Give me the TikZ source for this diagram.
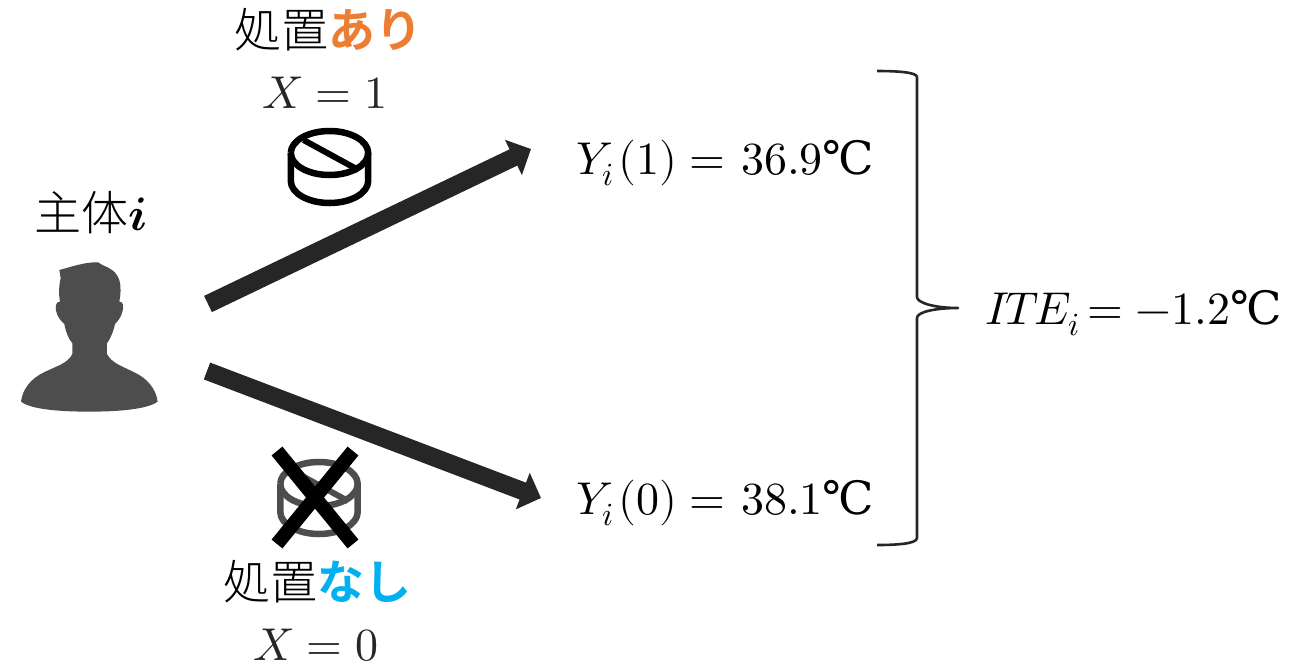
\documentclass[tikz,border=0pt]{standalone}
\usepackage{fontspec}
\usepackage{unicode-math}
\setmathfont{Latin Modern Math}
\usetikzlibrary{arrows.meta}
\newfontfamily\cjk{Noto Sans CJK JP}[UprightFont=* Light,BoldFont=* Bold]
\newfontfamily\celfont{DejaVu Serif}
\definecolor{dk}{HTML}{262626}
\definecolor{pers}{HTML}{4D4D4D}
\definecolor{ora}{HTML}{ED7D31}
\definecolor{blu}{HTML}{00B0F0}
\tikzset{
 lbl/.style={inner sep=0pt,anchor=base west,font=\fontsize{47}{51}\selectfont\cjk,text=black},
 eq/.style={inner sep=0pt,anchor=base,font=\fontsize{46}{50}\selectfont,text=dk},
 res/.style={inner sep=0pt,anchor=base west,font=\fontsize{46}{50}\selectfont,text=black},
 bigarrow/.style={draw=dk,line width=18pt,-{Triangle[length=19.5pt,width=38pt]}},
 brace/.style={draw=dk,line width=2.6pt,line join=round},
 tablet/.pic={
  \draw[line width=6.5pt,line join=round,pic actions] (-38.7,0) arc[start angle=180,end angle=-180,x radius=38.7,y radius=22];
  \draw[line width=6.5pt,line join=round,pic actions] (-38.7,0) -- (-38.7,28) arc[start angle=180,end angle=0,x radius=38.7,y radius=22] -- (38.7,0);
  \draw[line width=6pt,pic actions] (-26,-13) -- (29,17);
 },
 crossbar/.style={draw=black,line width=14pt},
}
\newcommand{\cel}{{\celfont ℃}}
\begin{document}
\begin{tikzpicture}[x=1pt,y=-1pt]
\useasboundingbox (0,0) rectangle (1302,665);
\fill[white] (0,0) rectangle (1302,665);
% person
\fill[pers,shift={(0,180)},x=0.3333pt,y=-0.3333pt]
 (178,270) .. controls (210,262) and (255,245) .. (295,247)
 .. controls (312,262) and (345,262) .. (358,300)
 .. controls (364,320) and (362,345) .. (358,365)
 .. controls (368,365) and (372,375) .. (368,392)
 .. controls (364,412) and (352,425) .. (345,432)
 .. controls (340,455) and (332,475) .. (321,490)
 -- (321,522)
 .. controls (335,550) and (370,560) .. (405,578)
 .. controls (440,595) and (468,625) .. (473,665)
 .. controls (440,690) and (340,695) .. (268,695)
 .. controls (190,695) and (95,690) .. (63,665)
 .. controls (68,625) and (95,595) .. (130,578)
 .. controls (165,560) and (205,550) .. (217,522)
 -- (217,490)
 .. controls (205,475) and (197,455) .. (193,432)
 .. controls (185,425) and (172,412) .. (168,392)
 .. controls (165,375) and (170,365) .. (180,365)
 .. controls (176,340) and (176,320) .. (182,295)
 -- cycle;
\node[lbl] (subj) at (34,230) {主体$\symbfit{i}$};
\node[lbl] (treat) at (234,47) {処置{\bfseries\color{ora}あり}};
\node[eq] (x1) at (325,108) {$X = 1$};
\node[lbl] (ctrl) at (223,599) {処置{\bfseries\color{blu}なし}};
\node[eq] (x0) at (316,660) {$X = 0$};
\pic[draw=black] at (329.5,153) {tablet};
\pic[draw=pers] at (319,484) {tablet};
\coordinate (c1) at (277,451);
\coordinate (c2) at (353,544);
\coordinate (c3) at (353,451);
\coordinate (c4) at (277,544);
\draw[crossbar] (c1) -- (c2);
\draw[crossbar] (c3) -- (c4);
\coordinate (s1) at (208,304);
\coordinate (e1) at (531,149);
\coordinate (s2) at (207,371);
\coordinate (e2) at (541,498);
\draw[bigarrow] (s1) -- (e1);
\draw[bigarrow] (s2) -- (e2);
\node[res] (y1) at (576,174) {$Y_i\mkern1.5mu(1) =\mkern1mu 36.9$\cel};
\node[res] (y0) at (576,514) {$Y_i\mkern1.5mu(0) =\mkern1mu 38.1$\cel};
\node[res] (ite) at (985,324) {$I\mkern-1.5mu T\mkern-2mu E_i\mkern-2mu = -1.2$\cel};
\coordinate (bt) at (877,71);
\coordinate (bb) at (877,545);
\coordinate (bm) at (958,308);
\draw[brace] (bt) .. controls (895,71) and (917,72) .. (917,77) -- (917,297)
 .. controls (917,303) and (935,308) .. (bm)
 .. controls (935,308) and (917,312) .. (917,318) -- (917,538)
 .. controls (917,544) and (895,545) .. (bb);
\end{tikzpicture}
\end{document}
